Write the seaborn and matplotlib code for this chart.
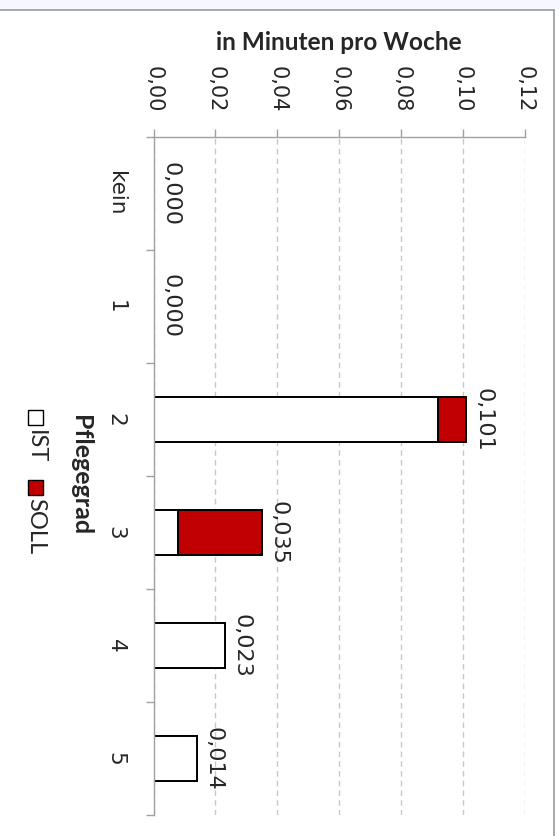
import matplotlib
matplotlib.use("Agg")
import matplotlib.pyplot as plt
import pandas as pd
import seaborn as sns
from matplotlib.lines import Line2D
from matplotlib.patches import Rectangle

# Daten
categories = ["kein", "1", "2", "3", "4", "5"]
ist_values = [0.0, 0.0, 0.092, 0.008, 0.023, 0.014]
soll_values = [0.0, 0.0, 0.009, 0.027, 0.0, 0.0]
value_ticks = [0.00, 0.02, 0.04, 0.06, 0.08, 0.10, 0.12]

W, H = 560, 836
RED = "#C00000"
AXIS_GRAY = "#a0a0a0"

sns.set_theme(style="white")
plt.rcParams["font.family"] = ["DejaVu Sans"]

df = pd.DataFrame({"Pflegegrad": categories, "IST": ist_values, "SOLL": soll_values})
df["Summe"] = df["IST"] + df["SOLL"]

fig = plt.figure(figsize=(W / 100, H / 100), dpi=100)
ax = fig.add_axes([153.5 / W, 1 - 815 / H, (525 - 153.5) / W, (815 - 137) / H])

# gestapelt: erst Summe (rot), dann IST (weiss) darueber
sns.barplot(data=df, x="Summe", y="Pflegegrad", order=categories, orient="h",
            color=RED, saturation=1, edgecolor="black", linewidth=1.4,
            width=0.4, errorbar=None, ax=ax)
sns.barplot(data=df, x="IST", y="Pflegegrad", order=categories, orient="h",
            color="white", saturation=1, edgecolor="black", linewidth=1.4,
            width=0.4, errorbar=None, ax=ax)
for patch in ax.patches:
    if patch.get_width() == 0:
        patch.set_linewidth(0)

ax.set_xlim(0, 0.12)
ax.set_ylim(len(categories) - 0.5, -0.5)
ax.xaxis.tick_top()
ax.set_xticks(value_ticks)
ax.set_xticklabels([f"{v:.2f}".replace(".", ",") for v in value_ticks])
ax.tick_params(axis="x", which="major", rotation=-90, length=6, width=1,
               color=AXIS_GRAY, pad=12, labelsize=15, top=True, bottom=False)

ax.set_yticks(range(len(categories)))
ax.set_yticklabels(categories)
ax.set_yticks([i - 0.5 for i in range(len(categories) + 1)], minor=True)
ax.tick_params(axis="y", which="major", length=0, pad=20, labelsize=15.5)
for lab in ax.get_yticklabels():
    lab.set_rotation(-90)
    lab.set_va("center")
ax.tick_params(axis="y", which="minor", length=6, width=1, color=AXIS_GRAY, left=True)

for side in ["right", "bottom"]:
    ax.spines[side].set_visible(False)
for side in ["top", "left"]:
    ax.spines[side].set_color(AXIS_GRAY)
    ax.spines[side].set_linewidth(1)

ax.grid(axis="x", linestyle=(0, (4, 3)), color="#c8c8c8", linewidth=1)
ax.grid(axis="y", visible=False)
ax.set_axisbelow(True)
ax.set_xlabel("")
ax.set_ylabel("")

# Datenbeschriftungen
for i, total in enumerate(df["Summe"]):
    ax.annotate(f"{total:.3f}".replace(".", ","), xy=(total, i), xytext=(5, 0),
                textcoords="offset points", rotation=-90, ha="left", va="center",
                fontsize=16)

# Achsentitel
fig.text(339 / W, 1 - 50 / H, "in Minuten pro Woche", ha="center", va="baseline",
         fontsize=17.6, fontweight="bold", family=["Lato", "DejaVu Sans"])

# Legende (gedreht, von Hand)
fig.text(80 / W, 1 - 475 / H, "Pflegegrad", rotation=-90, ha="center", va="center",
         fontsize=18, fontweight="bold", family=["Lato", "DejaVu Sans"])
fig.add_artist(Rectangle((28 / W, 1 - 425 / H), 15 / W, 15 / H, transform=fig.transFigure,
                         facecolor="white", edgecolor="black", linewidth=1))
fig.add_artist(Rectangle((28 / W, 1 - 495 / H), 15 / W, 15 / H, transform=fig.transFigure,
                         facecolor=RED, edgecolor="black", linewidth=1))
fig.text(35.5 / W, 1 - 430 / H, "IST", rotation=-90, ha="center", va="top",
         fontsize=17, family=["Lato", "DejaVu Sans"])
fig.text(35.5 / W, 1 - 498 / H, "SOLL", rotation=-90, ha="center", va="top",
         fontsize=17, family=["Lato", "DejaVu Sans"])

# Rahmen
fig.add_artist(Rectangle((0, 1 - 9.5 / H), 1, 9.5 / H, transform=fig.transFigure,
                         facecolor="#f6f8fd", edgecolor="none"))
fig.add_artist(Line2D([0, 554 / W], [1 - 10 / H, 1 - 10 / H], transform=fig.transFigure,
                      color="#9a9a9a", linewidth=1.2))
fig.add_artist(Line2D([554 / W, 554 / W], [1 - 10 / H, 0], transform=fig.transFigure,
                      color="#9a9a9a", linewidth=1.2))

fig.savefig("out.png", dpi=100)
